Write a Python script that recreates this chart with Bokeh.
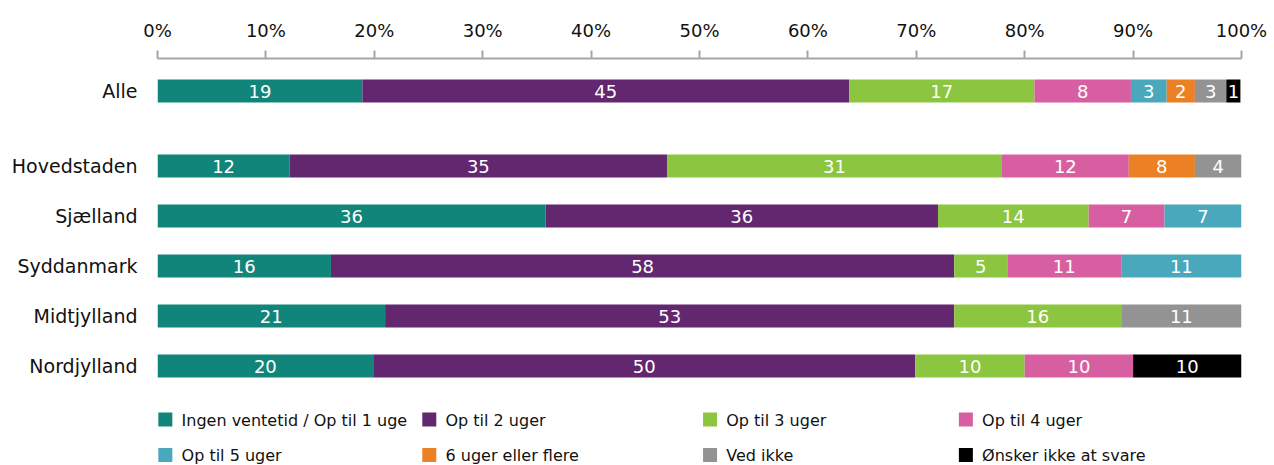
from bokeh.plotting import figure
from bokeh.models import Range1d, FixedTicker
from bokeh.core.properties import value
from bokeh.embed import file_html
from bokeh.resources import INLINE

# ---------------- data ----------------
categories = ["Alle", "Hovedstaden", "Sjælland", "Syddanmark", "Midtjylland", "Nordjylland"]

series_names = ["Ingen ventetid / Op til 1 uge", "Op til 2 uger", "Op til 3 uger", "Op til 4 uger",
                "Op til 5 uger", "6 uger eller flere", "Ved ikke", "Ønsker ikke at svare"]

# segment widths (percent) as drawn
uge1 = [18.9, 12.2, 35.8, 16.0, 21.0, 19.9]
uger2 = [44.9, 34.8, 36.2, 57.5, 52.5, 50.0]
uger3 = [17.1, 30.9, 13.9, 4.9, 15.4, 10.1]
uger4 = [8.9, 11.7, 7.0, 10.5, 0.0, 10.0]
uger5 = [3.3, 0.0, 7.1, 11.1, 0.0, 0.0]
uger6 = [2.6, 6.1, 0.0, 0.0, 0.0, 0.0]
ved_ikke = [2.9, 4.3, 0.0, 0.0, 11.1, 0.0]
oensker_ikke = [1.3, 0.0, 0.0, 0.0, 0.0, 10.0]

# printed labels
lab_uge1 = ["19", "12", "36", "16", "21", "20"]
lab_uger2 = ["45", "35", "36", "58", "53", "50"]
lab_uger3 = ["17", "31", "14", "5", "16", "10"]
lab_uger4 = ["8", "12", "7", "11", "", "10"]
lab_uger5 = ["3", "", "7", "11", "", ""]
lab_uger6 = ["2", "8", "", "", "", ""]
lab_ved_ikke = ["3", "4", "", "", "11", ""]
lab_oensker_ikke = ["1", "", "", "", "", "10"]

tick_values = [0, 10, 20, 30, 40, 50, 60, 70, 80, 90, 100]
tick_labels = ["0%", "10%", "20%", "30%", "40%", "50%", "60%", "70%", "80%", "90%", "100%"]

# ---------------- styles / layout ----------------
colors = ["#12857A", "#62276F", "#8CC540", "#D75FA1", "#4AA8BD", "#EB8024", "#939393", "#000000"]
series = [uge1, uger2, uger3, uger4, uger5, uger6, ved_ikke, oensker_ikke]
labels = [lab_uge1, lab_uger2, lab_uger3, lab_uger4, lab_uger5, lab_uger6, lab_ved_ikke, lab_oensker_ikke]

row_pos = [0, 1.5, 2.5, 3.5, 4.5, 5.5]
FONT = value("DejaVu Sans")
PX = 1084 / 100.0  # pixels per percent

p = figure(width=1272, height=465, output_backend="svg", toolbar_location=None,
           x_axis_location="above", x_range=Range1d(0, 100), y_range=Range1d(7.49, -0.65),
           min_border_left=157, min_border_right=31, min_border_top=58, min_border_bottom=0)
p.outline_line_color = None
p.xgrid.visible = False
p.ygrid.visible = False
p.background_fill_color = "white"
p.border_fill_color = "white"

# bars
left = [0.0] * len(categories)
for vals, labs, col in zip(series, labels, colors):
    right = [l + v for l, v in zip(left, vals)]
    ys = [y for y, v in zip(row_pos, vals) if v > 0]
    ls = [l for l, v in zip(left, vals) if v > 0]
    rs = [r for r, v in zip(right, vals) if v > 0]
    p.hbar(y=ys, left=ls, right=rs, height=0.46, fill_color=col, line_color=None)
    tx = [(l + r) / 2 for l, r, t in zip(left, right, labs) if t]
    ty = [y + 0.015 for y, t in zip(row_pos, labs) if t]
    tt = [t for t in labs if t]
    p.text(x=tx, y=ty, text=tt, text_align="center", text_baseline="middle",
           text_color="white", text_font=FONT, text_font_size="18px")
    left = right

# legend (manual, 4 columns x 2 rows)
leg_cols = [0.05, 24.4, 50.3, 73.9]
leg_rows = [6.56, 7.27]
for i, (name, col) in enumerate(zip(series_names, colors)):
    cx = leg_cols[i % 4]
    cy = leg_rows[i // 4]
    p.rect(x=[cx + 7.3 / PX], y=[cy + 0.01], width=14, height=14, width_units="screen",
           height_units="screen", fill_color=col, line_color=None)
    p.text(x=[cx + 23.5 / PX], y=[cy + 0.02], text=[name], text_align="left", text_baseline="middle",
           text_color="#111111", text_font=FONT, text_font_size="16px")

# x axis (top)
xa = p.xaxis[0]
xa.ticker = FixedTicker(ticks=tick_values)
xa.major_label_overrides = {v: t for v, t in zip(tick_values, tick_labels)}
xa.axis_line_color = "#A6A6A6"
xa.axis_line_width = 2
xa.major_tick_line_color = "#A6A6A6"
xa.major_tick_line_width = 2
xa.major_tick_out = 8
xa.major_tick_in = 0
xa.minor_tick_line_color = None
xa.major_label_standoff = 10
xa.major_label_text_font = "DejaVu Sans"
xa.major_label_text_font_size = "18px"
xa.major_label_text_color = "#111111"

# y axis (categories)
ya = p.yaxis[0]
ya.ticker = FixedTicker(ticks=row_pos)
ya.major_label_overrides = {y: c for y, c in zip(row_pos, categories)}
ya.axis_line_color = None
ya.major_tick_line_color = None
ya.minor_tick_line_color = None
ya.major_tick_out = 0
ya.major_tick_in = 0
ya.major_label_standoff = 20
ya.major_label_text_font = "DejaVu Sans"
ya.major_label_text_font_size = "19px"
ya.major_label_text_color = "#111111"

open("out.html", "w").write(file_html(p, INLINE))
